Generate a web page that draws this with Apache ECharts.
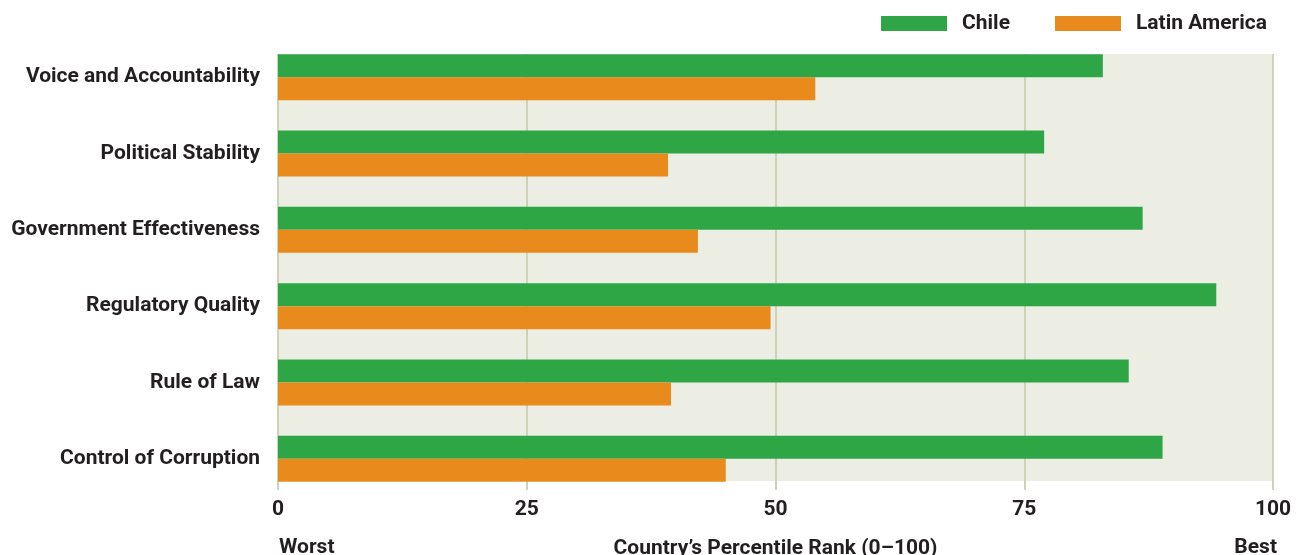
<!DOCTYPE html>
<html>
<head>
<meta charset="utf-8">
<script src="https://cdn.jsdelivr.net/npm/echarts@6/dist/echarts.min.js"></script>
<style>
  html, body { margin: 0; padding: 0; background: #fff; }
  #chart { width: 1305px; height: 555px; }
</style>
</head>
<body>
<div id="chart"></div>
<script>
// 数据
var categories = ['Voice and Accountability', 'Political Stability', 'Government Effectiveness',
    'Regulatory Quality', 'Rule of Law', 'Control of Corruption'];
var chileValues = [82.9, 77.0, 86.9, 94.3, 85.5, 88.9];
var latinValues = [54.0, 39.2, 42.2, 49.5, 39.5, 45.0];
var tickValues = [0, 25, 50, 75, 100];

var FONT = 'Roboto';
var FS = 21;
var TEXT = '#231f20';

var chart = echarts.init(document.getElementById('chart'));
var option = {
    animation: false,
    textStyle: { fontFamily: FONT },
    legend: {
        right: 33,
        top: 8,
        itemWidth: 66,
        itemHeight: 15,
        itemGap: 45,
        icon: 'rect',
        textStyle: { fontFamily: FONT, fontWeight: 'bold', fontSize: FS, color: TEXT, padding: [0, 0, 0, 10] },
        data: ['Chile', 'Latin America']
    },
    grid: [
        // 柱状图区域
        { left: 278, width: 995, top: 39, height: 458, outerBoundsMode: 'none', containLabel: false },
        // 背景区域
        { left: 278, width: 995, top: 54, height: 427, show: true, backgroundColor: '#ecede3', borderWidth: 0,
          outerBoundsMode: 'none', containLabel: false }
    ],
    xAxis: [{
        gridIndex: 0,
        type: 'value',
        min: 0,
        max: 100,
        show: false
    }, {
        gridIndex: 1,
        type: 'value',
        min: 0,
        max: 100,
        interval: 25,
        axisLine: { show: false },
        axisTick: { show: true, length: 9, lineStyle: { color: '#cfd2b6', width: 2 } },
        splitLine: { show: true, lineStyle: { color: '#cfd2b6', width: 2 } },
        axisLabel: {
            margin: 18,
            fontFamily: FONT, fontWeight: 'bold', fontSize: FS, color: TEXT,
            formatter: function (v) { return tickValues.indexOf(v) >= 0 ? String(v) : ''; }
        },
        name: 'Country\u2019s Percentile Rank (0\u2013100)',
        nameLocation: 'middle',
        nameGap: 57,
        nameTextStyle: { fontFamily: FONT, fontWeight: 'bold', fontSize: FS, color: TEXT }
    }],
    yAxis: [{
        gridIndex: 0,
        type: 'category',
        inverse: true,
        data: categories,
        axisLine: { show: false },
        axisTick: { show: false },
        axisLabel: { margin: 18, fontFamily: FONT, fontWeight: 'bold', fontSize: FS, color: TEXT, padding: [0, 0, 7, 0] }
    }, {
        gridIndex: 1,
        type: 'value',
        show: false
    }],
    graphic: [
        { type: 'text', left: 279, top: 537, style: { text: 'Worst', fontFamily: FONT, fontWeight: 'bold', fontSize: FS, fill: TEXT } },
        { type: 'text', right: 28, top: 537, style: { text: 'Best', fontFamily: FONT, fontWeight: 'bold', fontSize: FS, fill: TEXT } }
    ],
    series: [{
        name: 'Chile',
        type: 'bar',
        xAxisIndex: 0,
        yAxisIndex: 0,
        barWidth: 23,
        barGap: '0%',
        itemStyle: { color: '#2ea646' },
        data: chileValues
    }, {
        name: 'Latin America',
        type: 'bar',
        xAxisIndex: 0,
        yAxisIndex: 0,
        barWidth: 23,
        barGap: '0%',
        itemStyle: { color: '#e98a1c' },
        data: latinValues
    }]
};
chart.setOption(option);
</script>
</body>
</html>
